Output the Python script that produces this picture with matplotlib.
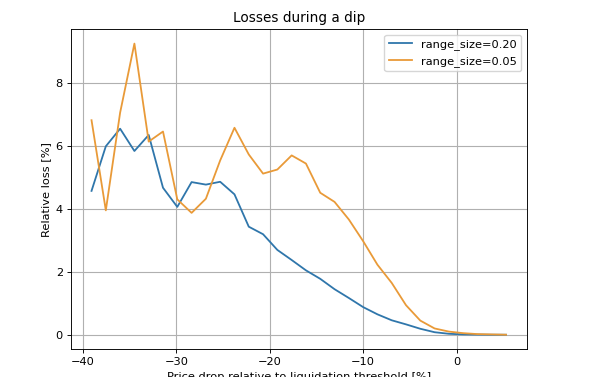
import numpy as np
import matplotlib
matplotlib.use("Agg")
import matplotlib.pyplot as plt

# Price drop relative to liquidation threshold [%]
price_drop = np.linspace(-39.1, 5.3, 30)

loss_range_020 = [4.58, 6.00, 6.56, 5.85, 6.36, 4.68, 4.07, 4.86, 4.78, 4.87,
                  4.47, 3.44, 3.20, 2.70, 2.38, 2.05, 1.78, 1.45, 1.17, 0.88,
                  0.65, 0.46, 0.33, 0.19, 0.08, 0.03, 0.01, 0.005, 0.0, 0.0]

loss_range_005 = [6.83, 3.96, 7.07, 9.27, 6.15, 6.47, 4.31, 3.88, 4.33, 5.55,
                  6.59, 5.74, 5.13, 5.26, 5.71, 5.45, 4.52, 4.23, 3.67, 2.98,
                  2.23, 1.65, 0.94, 0.45, 0.20, 0.10, 0.05, 0.02, 0.01, 0.0]

labels = ["range_size=0.20", "range_size=0.05"]

s = 0.82
fs = 10 * s
fig = plt.figure(figsize=(6.0, 3.77), dpi=100)
ax = fig.add_axes([0.118, 0.0735, 0.76, 0.8495])
ax.plot(price_drop, loss_range_020, color="#2f76ab", lw=1.3, label=labels[0])
ax.plot(price_drop, loss_range_005, color="#e99a38", lw=1.3, label=labels[1])
ax.grid(True, color="#b0b0b0", lw=0.8)
ax.set_xticks([-40, -30, -20, -10, 0])
ax.set_yticks([0, 2, 4, 6, 8])
ax.tick_params(labelsize=fs, length=3.5 * s, width=0.8 * s, pad=3.5 * s)
for sp in ax.spines.values():
    sp.set_linewidth(0.8 * s)
ax.set_title("Losses during a dip", fontsize=12 * s, pad=6 * s)
ax.set_xlabel("Price drop relative to liquidation threshold [%]", fontsize=fs,
              labelpad=4 * s)
ax.set_ylabel("Relative loss [%]", fontsize=fs, labelpad=4 * s)
ax.legend(loc="upper right", fontsize=fs)
fig.savefig("out.png", dpi=100)
